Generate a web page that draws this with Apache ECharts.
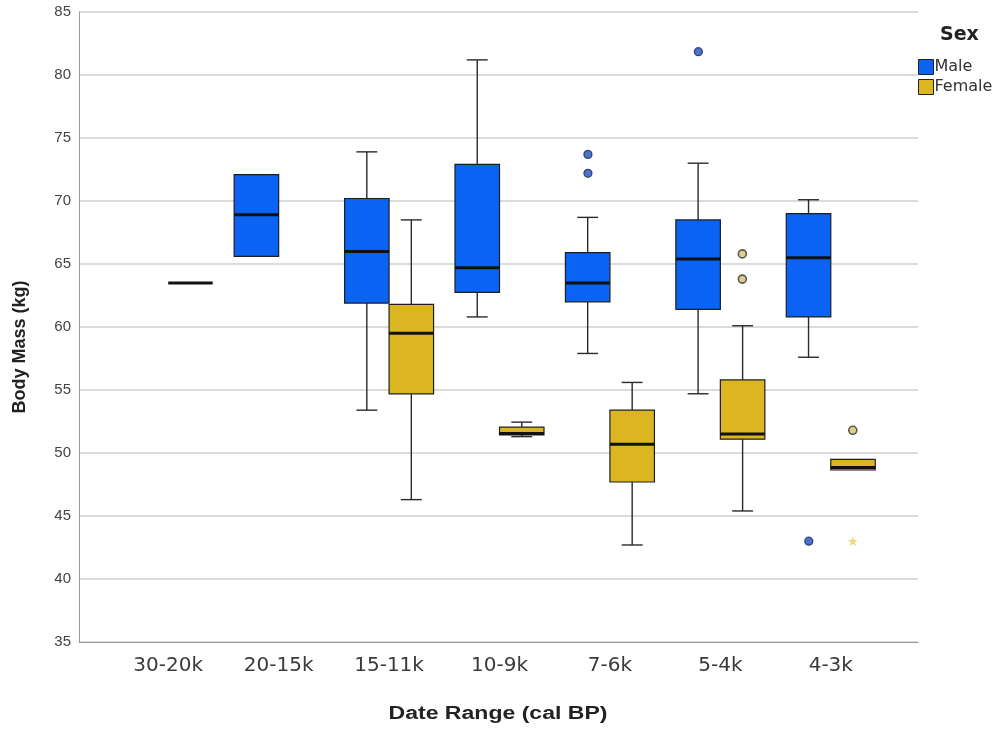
<!DOCTYPE html>
<html>
<head>
<meta charset="utf-8">
<script src="https://cdn.jsdelivr.net/npm/echarts@6/dist/echarts.min.js"></script>
<style>html,body{margin:0;padding:0;background:#fff;}#c{width:1007px;height:729px;}</style>
</head>
<body>
<div id="c"></div>
<script>
// ---- data ----
const categories = ['30-20k', '20-15k', '15-11k', '10-9k', '7-6k', '5-4k', '4-3k'];
// [min, q1, median, q3, max] per category (null = no data)
const maleStats = [
  null,
  [65.6, 65.6, 68.9, 72.1, 72.1],
  [53.4, 61.9, 66.0, 70.2, 73.9],
  [60.8, 62.75, 64.7, 72.9, 81.2],
  [57.9, 62.0, 63.5, 65.9, 68.7],
  [54.7, 61.4, 65.4, 68.5, 73.0],
  [57.6, 60.8, 65.5, 69.0, 70.1]
];
const femaleStats = [
  [63.5, 63.5, 63.5, 63.5, 63.5],
  null,
  [46.3, 54.7, 59.5, 61.8, 68.5],
  [51.3, 51.43, 51.55, 52.05, 52.45],
  [42.7, 47.7, 50.7, 53.4, 55.6],
  [45.4, 51.1, 51.5, 55.8, 60.1],
  [48.65, 48.65, 48.85, 49.5, 49.5]
];
// [category index, value]
const maleOutliers = [[4, 73.7], [4, 72.2], [5, 81.85], [6, 43.0]];
const femaleOutliers = [[5, 65.8], [5, 63.8], [6, 51.8]];
const femaleExtremes = [[6, 43.0]];
const yMin = 35, yMax = 85, yStep = 5;

const MALE = '#0a63f2', FEMALE = '#dcb620';
const FONT = 'Liberation Sans, Arial, sans-serif';
const WIDE = 'DejaVu Sans, Liberation Sans, sans-serif';

function toRows(stats) {
  const rows = [];
  stats.forEach((s, i) => { if (s) rows.push([i].concat(s)); });
  return rows;
}

function makeRender(side, color) {
  return function (params, api) {
    const ci = api.value(0);
    const band = api.size([1, 0])[0];
    const w = band * 0.403;
    const center = api.coord([ci, api.value(3)])[0];
    const cx = center + side * w / 2;
    const left = cx - w / 2;
    const yMn = api.coord([ci, api.value(1)])[1];
    const yQ1 = api.coord([ci, api.value(2)])[1];
    const yMd = api.coord([ci, api.value(3)])[1];
    const yQ3 = api.coord([ci, api.value(4)])[1];
    const yMx = api.coord([ci, api.value(5)])[1];
    const cap = w * 0.47;
    const wStyle = { stroke: '#2a2a2a', lineWidth: 1.4 };
    const children = [];
    if (api.value(1) < api.value(2)) {
      children.push({ type: 'line', shape: { x1: cx, y1: yQ1, x2: cx, y2: yMn }, style: wStyle });
      children.push({ type: 'line', shape: { x1: cx - cap / 2, y1: yMn, x2: cx + cap / 2, y2: yMn }, style: wStyle });
    }
    if (api.value(5) > api.value(4)) {
      children.push({ type: 'line', shape: { x1: cx, y1: yQ3, x2: cx, y2: yMx }, style: wStyle });
      children.push({ type: 'line', shape: { x1: cx - cap / 2, y1: yMx, x2: cx + cap / 2, y2: yMx }, style: wStyle });
    }
    if (yQ1 - yQ3 > 0.5) {
      children.push({ type: 'rect', shape: { x: left, y: yQ3, width: w, height: yQ1 - yQ3 },
        style: { fill: color, stroke: '#1e1e1e', lineWidth: 1.2 } });
    }
    children.push({ type: 'line', shape: { x1: left, y1: yMd, x2: left + w, y2: yMd },
      style: { stroke: '#111', lineWidth: 3 } });
    return { type: 'group', children: children };
  };
}

const chart = echarts.init(document.getElementById('c'), null, { renderer: 'canvas' });
chart.setOption({
  backgroundColor: '#fff',
  animation: false,
  textStyle: { fontFamily: FONT },
  title: {
    text: 'Sex', left: 940, top: 26, padding: 0,
    textStyle: { fontFamily: WIDE, fontSize: 19, fontWeight: 'bold', color: '#222' }
  },
  legend: {
    data: ['Male', 'Female'], orient: 'vertical', left: 918, top: 59, padding: 0,
    itemWidth: 15, itemHeight: 15, itemGap: 4, icon: 'rect',
    itemStyle: { borderColor: '#222', borderWidth: 1 },
    textStyle: { fontFamily: WIDE, fontSize: 16, color: '#333', padding: [5, 0, 0, -4] }
  },
  grid: [
    { left: 79, right: 89, top: 12, bottom: 87 },
    { left: 113, right: 121, top: 12, bottom: 87 }
  ],
  xAxis: [
    { gridIndex: 0, type: 'value', min: 0, max: 1, axisLabel: { show: false }, axisTick: { show: false },
      splitLine: { show: false }, axisLine: { lineStyle: { color: '#999', width: 1 } } },
    { gridIndex: 1, type: 'category', data: categories, boundaryGap: true,
      axisLine: { show: false }, axisTick: { show: false },
      axisLabel: { margin: 14, fontSize: 20, color: '#3a3a3a', fontFamily: WIDE } }
  ],
  yAxis: [
    { gridIndex: 0, type: 'value', min: yMin, max: yMax, interval: yStep,
      axisLine: { show: true, lineStyle: { color: '#999', width: 1 } }, axisTick: { show: false },
      axisLabel: { margin: 8, fontSize: 15, color: '#444', fontFamily: FONT } ,
      splitLine: { show: true, lineStyle: { color: '#cfcfcf', width: 1.5 } } },
    { gridIndex: 1, type: 'value', min: yMin, max: yMax, interval: yStep, show: false, splitLine: { show: false } }
  ],
  graphic: [
    { type: 'text', x: 20, y: 347, rotation: Math.PI / 2,
      style: { text: 'Body Mass (kg)', fontFamily: FONT, fontSize: 18, fontWeight: 'bold', fill: '#222',
        align: 'center', verticalAlign: 'middle' } },
    { type: 'text', x: 498, y: 714, scaleX: 1.28,
      style: { text: 'Date Range (cal BP)', fontFamily: FONT, fontSize: 18, fontWeight: 'bold', fill: '#222',
        align: 'center', verticalAlign: 'middle' } }
  ],
  series: [
    { name: 'Male', type: 'custom', xAxisIndex: 1, yAxisIndex: 1, data: toRows(maleStats),
      encode: { x: 0, y: [1, 2, 3, 4, 5] }, itemStyle: { color: MALE },
      renderItem: makeRender(-1, MALE) },
    { name: 'Female', type: 'custom', xAxisIndex: 1, yAxisIndex: 1, data: toRows(femaleStats),
      encode: { x: 0, y: [1, 2, 3, 4, 5] }, itemStyle: { color: FEMALE },
      renderItem: makeRender(1, FEMALE) },
    { name: 'Male outliers', type: 'scatter', xAxisIndex: 1, yAxisIndex: 1, data: maleOutliers,
      symbol: 'circle', symbolSize: 8, symbolOffset: [-22, 0],
      itemStyle: { color: '#1f4fbd', borderColor: '#182a60', borderWidth: 1.3 } },
    { name: 'Female outliers', type: 'scatter', xAxisIndex: 1, yAxisIndex: 1, data: femaleOutliers,
      symbol: 'circle', symbolSize: 8, symbolOffset: [22, 0],
      itemStyle: { color: '#d6c46e', borderColor: '#333', borderWidth: 1.6 } },
    { name: 'Female extremes', type: 'scatter', xAxisIndex: 1, yAxisIndex: 1, data: femaleExtremes,
      symbol: 'path://M0,-10 L2.35,-3.24 L9.51,-3.09 L3.8,1.24 L5.88,8.09 L0,4 L-5.88,8.09 L-3.8,1.24 L-9.51,-3.09 L-2.35,-3.24 Z',
      symbolSize: 10, symbolOffset: [22, 0],
      itemStyle: { color: '#ecd060' } }
  ]
});
</script>
</body>
</html>
